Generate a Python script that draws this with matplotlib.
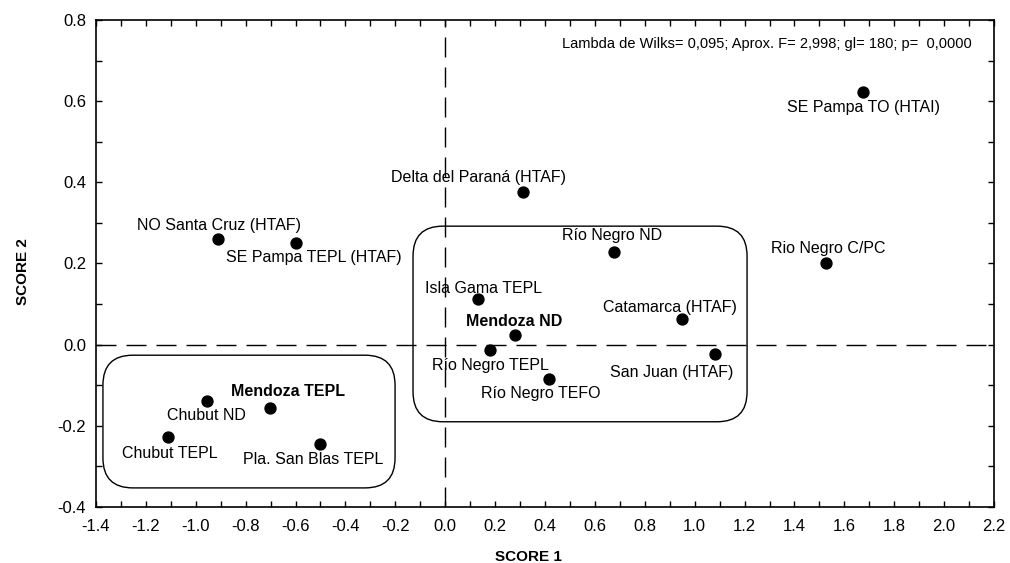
import matplotlib
matplotlib.use("Agg")
import matplotlib.pyplot as plt
from matplotlib.patches import FancyBboxPatch
from matplotlib.ticker import MultipleLocator

# localidades / grupos
nombres = [
    "SE Pampa TO (HTAI)", "Delta del Paraná (HTAF)", "NO Santa Cruz (HTAF)",
    "SE Pampa TEPL (HTAF)", "Río Negro ND", "Rio Negro C/PC", "Isla Gama TEPL",
    "Catamarca (HTAF)", "Mendoza ND", "Río Negro TEPL", "San Juan (HTAF)",
    "Río Negro TEFO", "Chubut ND", "Mendoza TEPL", "Chubut TEPL",
    "Pla. San Blas TEPL",
]
score1 = [1.675, 0.312, -0.911, -0.598, 0.677, 1.527, 0.132, 0.950,
          0.280, 0.180, 1.082, 0.416, -0.955, -0.702, -1.111, -0.502]
score2 = [0.623, 0.376, 0.260, 0.250, 0.228, 0.201, 0.112, 0.063,
          0.024, -0.013, -0.023, -0.085, -0.139, -0.156, -0.228, -0.245]
negrita = [False, False, False, False, False, False, False, False,
           True, False, False, False, False, True, False, False]

texto_wilks = "Lambda de Wilks= 0,095; Aprox. F= 2,998; gl= 180; p=  0,0000"

# desplazamiento de cada etiqueta (pixeles)
desplaz = [(0, -16), (-45, 15), (1, 14), (18, -14), (-2, 17), (2, 15),
           (5, 11), (-12, 12), (-1, 13), (0, -16), (-43, -19), (-8, -14),
           (-1, -14), (18, 16), (2, -16), (-7, -15)]

plt.rcParams["font.family"] = ["Liberation Sans", "DejaVu Sans"]

fig = plt.figure(figsize=(10.1, 5.63), dpi=100)
ax = fig.add_axes([0.095, 0.0995, 0.8892, 0.865])

ax.set_xlim(-1.4, 2.2)
ax.set_ylim(-0.4, 0.8)

# grupos redondeados
aspecto = (898 / 3.6) / (487 / 1.2)
for x0, y0, x1, y1 in [(-0.129, -0.190, 1.210, 0.292), (-1.372, -0.353, -0.201, -0.026)]:
    caja = FancyBboxPatch((x0, y0), x1 - x0, y1 - y0,
                          boxstyle="round,pad=0,rounding_size=0.12",
                          mutation_aspect=aspecto, fc="none", ec="black", lw=1)
    ax.add_patch(caja)

ax.axhline(0, color="black", lw=1, dashes=(14.4, 7.2))
ax.axvline(0, color="black", lw=1, dashes=(14.4, 7.2))

ax.scatter(score1, score2, s=62, color="black", zorder=3)

for nom, x, y, d, b in zip(nombres, score1, score2, desplaz, negrita):
    ax.annotate(nom, (x, y), xytext=d, textcoords="offset pixels",
                ha="center", va="center", fontsize=11.5,
                fontweight="bold" if b else "normal")

ax.text(0.747, 0.951, texto_wilks, transform=ax.transAxes,
        ha="center", va="center", fontsize=10.5)

ax.xaxis.set_major_locator(MultipleLocator(0.2))
ax.xaxis.set_minor_locator(MultipleLocator(0.1))
ax.yaxis.set_major_locator(MultipleLocator(0.2))
ax.yaxis.set_minor_locator(MultipleLocator(0.1))
ax.xaxis.set_major_formatter(lambda v, p: f"{v:.1f}")
ax.yaxis.set_major_formatter(lambda v, p: f"{v:.1f}")
ax.tick_params(which="both", direction="in", top=True, right=True,
               length=4, width=1, labelsize=12)
ax.tick_params(axis="x", pad=9)
ax.tick_params(axis="y", pad=7)
for s in ax.spines.values():
    s.set_linewidth(1.2)

ax.set_xlabel("SCORE 1", fontsize=11, fontweight="bold", labelpad=11)
ax.set_ylabel("SCORE 2", fontsize=11, fontweight="bold", labelpad=20)
ax.xaxis.label.set_x(0.482)
ax.yaxis.label.set_y(0.483)

fig.savefig("out.png", dpi=100)
